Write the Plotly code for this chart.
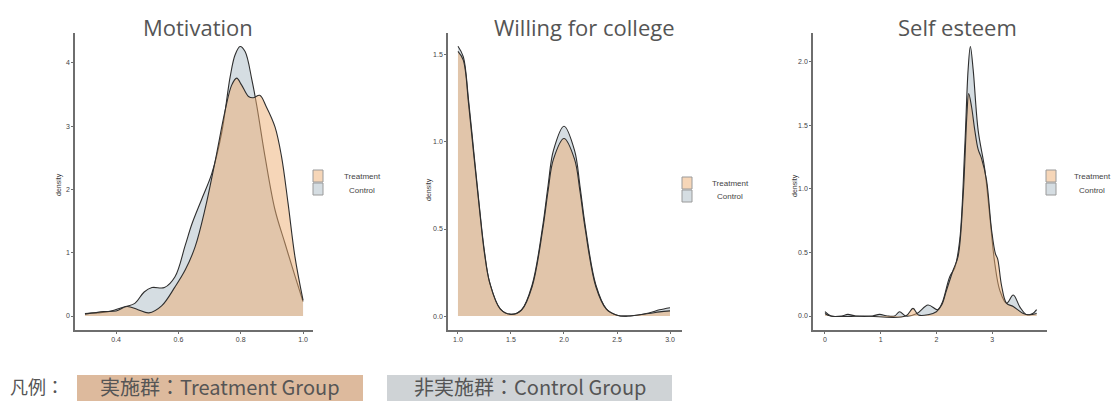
import plotly.graph_objects as go

# ---- Motivation densities ----
motivation_x_control = [0.30, 0.375, 0.43, 0.46, 0.49, 0.515, 0.555, 0.589, 0.622, 0.643, 0.675,
                        0.707, 0.739, 0.766, 0.782, 0.798, 0.814, 0.836, 0.852, 0.878, 0.91,
                        0.942, 0.975, 1.0]
motivation_y_control = [0.04, 0.07, 0.15, 0.20, 0.38, 0.45, 0.45, 0.62, 1.12, 1.45, 1.85,
                        2.25, 2.90, 3.78, 4.13, 4.26, 4.18, 3.73, 3.31, 2.52, 1.68,
                        1.15, 0.62, 0.23]
motivation_x_treat = [0.30, 0.36, 0.40, 0.435, 0.47, 0.505, 0.546, 0.589, 0.622, 0.654, 0.686,
                      0.718, 0.75, 0.771, 0.787, 0.803, 0.825, 0.84, 0.861, 0.882, 0.91,
                      0.931, 0.952, 0.974, 1.0]
motivation_y_treat = [0.03, 0.07, 0.08, 0.15, 0.10, 0.05, 0.16, 0.46, 0.73, 1.10, 1.70,
                      2.45, 3.25, 3.65, 3.76, 3.65, 3.47, 3.45, 3.49, 3.31, 2.99,
                      2.52, 1.78, 0.94, 0.25]

# ---- Willing for college densities ----
college_x = [1.00, 1.05, 1.10, 1.15, 1.20, 1.25, 1.30, 1.40, 1.50, 1.60, 1.70, 1.80, 1.85,
             1.90, 2.00, 2.10, 2.15, 2.20, 2.30, 2.40, 2.50, 2.60, 2.80, 2.90, 3.00]
college_y_treat = [1.52, 1.47, 1.22, 0.92, 0.63, 0.36, 0.19, 0.04, 0.01, 0.035, 0.17, 0.50, 0.72,
                   0.90, 1.02, 0.90, 0.72, 0.50, 0.17, 0.04, 0.005, 0.0, 0.015, 0.024, 0.03]
college_y_control = [1.55, 1.49, 1.24, 0.94, 0.64, 0.37, 0.19, 0.04, 0.01, 0.035, 0.18, 0.52, 0.75,
                     0.95, 1.09, 0.95, 0.75, 0.52, 0.18, 0.04, 0.005, 0.0, 0.018, 0.036, 0.048]

# ---- Self esteem densities ----
esteem_x_control = [0.0, 0.11, 0.3, 0.41, 0.55, 0.85, 0.98, 1.12, 1.25, 1.34, 1.45, 1.65, 1.85,
                    2.02, 2.1, 2.24, 2.33, 2.42, 2.51, 2.57, 2.61, 2.66, 2.75, 2.87, 2.96, 3.05,
                    3.14, 3.26, 3.38, 3.5, 3.62, 3.73, 3.8]
esteem_y_control = [0.034, 0.0, 0.0, 0.013, 0.0, 0.0, 0.013, 0.0, 0.0, 0.034, 0.0, 0.02, 0.087,
                    0.05, 0.10, 0.31, 0.38, 0.60, 1.33, 1.94, 2.12, 1.94, 1.46, 1.15, 0.78, 0.41,
                    0.20, 0.10, 0.165, 0.07, 0.01, 0.02, 0.05]
esteem_x_treat = [0.0, 0.1, 0.7, 1.45, 1.58, 1.68, 1.85, 2.0, 2.1, 2.18, 2.3, 2.39, 2.48, 2.55,
                  2.58, 2.63, 2.69, 2.75, 2.81, 2.9, 2.99, 3.06, 3.1, 3.17, 3.26, 3.38, 3.56,
                  3.67, 3.8]
esteem_y_treat = [0.02, 0.0, 0.0, 0.0, 0.06, 0.008, 0.01, 0.034, 0.09, 0.20, 0.36, 0.47, 0.94,
                  1.60, 1.75, 1.65, 1.46, 1.31, 1.24, 1.07, 0.68, 0.49, 0.45, 0.24, 0.10, 0.075,
                  0.02, 0.01, 0.02]

# ---- Text ----
panel_titles = ["Motivation", "Willing for college", "Self esteem"]
group_names = ["Treatment", "Control"]
y_label = "density"
legend_caption = "凡例："
legend_boxes = ["実施群：Treatment Group", "非実施群：Control Group"]

# ---- Ticks ----
motivation_xticks = [0.4, 0.6, 0.8, 1.0]
motivation_yticks = [0, 1, 2, 3, 4]
college_xticks = [1.0, 1.5, 2.0, 2.5, 3.0]
college_yticks = [0.0, 0.5, 1.0, 1.5]
esteem_xticks = [0, 1, 2, 3]
esteem_yticks = [0.0, 0.5, 1.0, 1.5, 2.0]

W, H = 1115, 401
TREAT_FILL = "rgba(237,173,113,0.5)"
CTRL_FILL = "rgba(171,187,197,0.5)"
TREAT_KEY = "rgb(246,214,184)"
CTRL_KEY = "rgb(213,221,226)"
EDGE = "#2e2e2e"
AXIS = "#6e6e6e"
TEXT = "#555555"

fig = go.Figure()

panels = [
    (motivation_x_control, motivation_y_control, motivation_x_treat, motivation_y_treat),
    (college_x, college_y_control, college_x, college_y_treat),
    (esteem_x_control, esteem_y_control, esteem_x_treat, esteem_y_treat),
]
for i, (xc, yc, xt, yt) in enumerate(panels):
    sfx = "" if i == 0 else str(i + 1)
    # control drawn first, treatment overlaid
    fig.add_trace(go.Scatter(x=xc, y=yc, mode="lines", fill="tozeroy", fillcolor=CTRL_FILL,
                             line=dict(color=EDGE, width=1.1, shape="spline", smoothing=1.0),
                             name=group_names[1], xaxis="x" + sfx, yaxis="y" + sfx,
                             showlegend=False, hoverinfo="skip"))
    fig.add_trace(go.Scatter(x=xt, y=yt, mode="lines", fill="tozeroy", fillcolor=TREAT_FILL,
                             line=dict(color=EDGE, width=1.1, shape="spline", smoothing=1.0),
                             name=group_names[0], xaxis="x" + sfx, yaxis="y" + sfx,
                             showlegend=False, hoverinfo="skip"))


def px_x(p):
    return p / W


def px_y(p):
    return 1 - p / H


# plot-area pixel boxes: (left, right, top, bottom)
boxes = [(75, 313, 33, 330), (448, 682, 33, 330), (813, 1047, 33, 330)]
xranges = [[0.268, 1.032], [0.906, 3.113], [-0.215, 3.986]]
yranges = [[-0.221, 4.474], [-0.080, 1.626], [-0.110, 2.226]]
xticks = [motivation_xticks, college_xticks, esteem_xticks]
yticks = [motivation_yticks, college_yticks, esteem_yticks]
xfmt = [".1f", ".1f", "d"]
yfmt = ["d", ".1f", ".1f"]

axis_common = dict(showline=True, linecolor=AXIS, linewidth=1.6, ticks="outside", ticklen=2,
                   tickwidth=1, tickcolor=AXIS, showgrid=False, zeroline=False,
                   tickfont=dict(family="Liberation Sans, Arial", size=7, color="#444444"),
                   fixedrange=True)

layout_axes = {}
for i, (l, r, t, b) in enumerate(boxes):
    sfx = "" if i == 0 else str(i + 1)
    layout_axes["xaxis" + sfx] = dict(axis_common, domain=[px_x(l), px_x(r)], range=xranges[i],
                                      tickvals=xticks[i], tickformat=xfmt[i],
                                      anchor="y" + sfx)
    layout_axes["yaxis" + sfx] = dict(axis_common, domain=[px_y(b), px_y(t)], range=yranges[i],
                                      tickvals=yticks[i], tickformat=yfmt[i],
                                      anchor="x" + sfx)

fig.update_layout(width=W, height=H, margin=dict(l=0, r=0, t=0, b=0),
                  paper_bgcolor="white", plot_bgcolor="white", **layout_axes)

annotations = []
shapes = []

# panel titles
title_centers = [198, 584, 957]
for cx, txt in zip(title_centers, panel_titles):
    annotations.append(dict(x=px_x(cx), y=px_y(27), xref="paper", yref="paper", text=txt,
                            showarrow=False, xanchor="center", yanchor="middle",
                            font=dict(family="Open Sans", size=22, color=TEXT)))

# y-axis labels
ylab_pos = [(59, 185), (429, 190), (795, 185)]
for (lx, ly) in ylab_pos:
    annotations.append(dict(x=px_x(lx), y=px_y(ly), xref="paper", yref="paper", text=y_label,
                            textangle=-90, showarrow=False, xanchor="center", yanchor="middle",
                            font=dict(family="Liberation Sans, Arial", size=7, color="#333")))

# per-panel legends: (key left, key top, text center, text top row y)
legend_pos = [(313, 170, 362, 176), (682, 177, 730, 183), (1046, 170, 1092, 176)]
for (kx, ky, tx, ty) in legend_pos:
    for j, (col, name) in enumerate(zip([TREAT_KEY, CTRL_KEY], group_names)):
        y0 = ky + j * 13
        shapes.append(dict(type="rect", xref="paper", yref="paper",
                           x0=px_x(kx), x1=px_x(kx + 10), y0=px_y(y0), y1=px_y(y0 + 12),
                           fillcolor=col, line=dict(color="#9a9a9a", width=1)))
        annotations.append(dict(x=px_x(tx), y=px_y(ty + j * 14), xref="paper", yref="paper",
                                text=name, showarrow=False, xanchor="center", yanchor="middle",
                                font=dict(family="Liberation Sans, Arial", size=8, color="#444")))

# bottom legend
annotations.append(dict(x=px_x(8), y=px_y(386), xref="paper", yref="paper", text=legend_caption,
                        showarrow=False, xanchor="left", yanchor="middle",
                        font=dict(family="Noto Sans CJK JP", size=18, color=TEXT)))
box_spans = [(77, 363, "rgb(221,186,157)"), (387, 672, "rgb(207,211,214)")]
for (bx0, bx1, col), txt in zip(box_spans, legend_boxes):
    shapes.append(dict(type="rect", xref="paper", yref="paper", x0=px_x(bx0), x1=px_x(bx1),
                       y0=px_y(402), y1=px_y(375), fillcolor=col, line=dict(width=0),
                       layer="below"))
    annotations.append(dict(x=px_x((bx0 + bx1) / 2), y=px_y(386), xref="paper", yref="paper",
                            text=txt, showarrow=False, xanchor="center", yanchor="middle",
                            font=dict(family="Noto Sans CJK JP", size=20, color=TEXT)))

fig.update_layout(annotations=annotations, shapes=shapes)
fig.write_html("out.html")
